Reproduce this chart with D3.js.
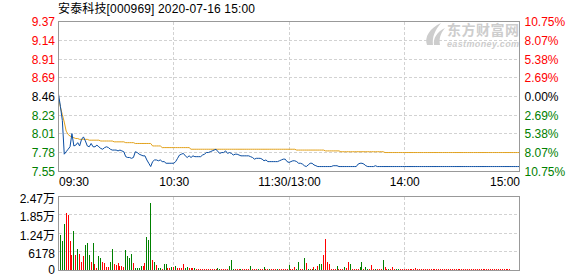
<!DOCTYPE html>
<html lang="zh">
<head>
<meta charset="utf-8">
<title>安泰科技 分时</title>
<script src="https://cdn.jsdelivr.net/npm/d3@7/dist/d3.min.js"></script>
<style>
  body { margin: 0; background: #fff; }
  svg { display: block; font-family: "Liberation Sans", Arial, "Noto Sans CJK SC", sans-serif; }
  .grid line { stroke: #d2d2d2; stroke-dasharray: 3,2; shape-rendering: crispEdges; }
  .frame { fill: none; stroke: #999; shape-rendering: crispEdges; }
</style>
</head>
<body>
<div id="chart"></div>
<script>
var title = "安泰科技[000969] 2020-07-16 15:00";
var preClose = 8.46;

var priceTicks = [9.37, 9.14, 8.91, 8.69, 8.46, 8.23, 8.01, 7.78, 7.55];
var pctLabels = ["10.75%", "8.07%", "5.38%", "2.69%", "0.00%", "2.69%", "5.38%", "8.07%", "10.75%"];
var volTicks = [24712, 18534, 12356, 6178, 0];
var volLabels = ["2.47万", "1.85万", "1.24万", "6178", "0"];
var timeTicks = [0, 60, 120, 180, 240];
var timeLabels = ["09:30", "10:30", "11:30/13:00", "14:00", "15:00"];

// one value per trading minute, 241 in all
var price = [
  8.49,8.34,8.17,7.76,7.79,7.82,7.85,8.01,7.86,7.87,
  7.90,7.86,7.94,7.97,7.92,7.86,7.85,7.89,7.85,7.85,
  7.87,7.85,7.83,7.82,7.84,7.85,7.84,7.82,7.81,7.81,
  7.81,7.80,7.81,7.80,7.79,7.73,7.72,7.72,7.71,7.72,
  7.79,7.78,7.76,7.75,7.74,7.74,7.69,7.65,7.61,7.67,
  7.69,7.69,7.68,7.69,7.67,7.67,7.65,7.65,7.65,7.65,
  7.65,7.67,7.71,7.75,7.76,7.77,7.74,7.72,7.74,7.72,
  7.74,7.73,7.73,7.73,7.73,7.75,7.76,7.78,7.78,7.79,
  7.80,7.81,7.82,7.79,7.77,7.78,7.78,7.80,7.77,7.78,
  7.77,7.75,7.76,7.76,7.75,7.74,7.74,7.74,7.74,7.74,
  7.73,7.72,7.70,7.71,7.71,7.71,7.70,7.68,7.69,7.67,
  7.67,7.67,7.67,7.67,7.67,7.68,7.69,7.70,7.70,7.67,
  7.66,7.67,7.68,7.68,7.67,7.65,7.65,7.64,7.62,7.61,
  7.63,7.65,7.65,7.63,7.62,7.61,7.61,7.61,7.61,7.61,
  7.61,7.61,7.61,7.62,7.62,7.62,7.61,7.61,7.61,7.61,
  7.61,7.61,7.61,7.61,7.61,7.61,7.64,7.65,7.65,7.64,
  7.62,7.61,7.61,7.61,7.61,7.62,7.61,7.61,7.61,7.61,
  7.61,7.61,7.61,7.61,7.61,7.61,7.61,7.61,7.61,7.61,
  7.61,7.61,7.61,7.61,7.61,7.61,7.61,7.61,7.61,7.61,
  7.61,7.61,7.61,7.61,7.61,7.61,7.61,7.61,7.61,7.61,
  7.61,7.61,7.61,7.61,7.61,7.61,7.61,7.61,7.61,7.61,
  7.61,7.61,7.61,7.61,7.61,7.61,7.61,7.61,7.61,7.61,
  7.61,7.61,7.61,7.61,7.61,7.61,7.61,7.61,7.61,7.61,
  7.61,7.61,7.61,7.61,7.61,7.61,7.61,7.61,7.61,7.61,
  7.61
];

var avgPrice = [
  8.44,8.33,8.24,8.15,8.04,8.00,7.98,7.97,7.96,7.95,
  7.95,7.94,7.94,7.94,7.94,7.94,7.93,7.93,7.93,7.93,
  7.93,7.93,7.92,7.92,7.92,7.92,7.92,7.92,7.92,7.91,
  7.91,7.91,7.91,7.91,7.91,7.90,7.90,7.90,7.90,7.90,
  7.89,7.89,7.89,7.89,7.89,7.89,7.89,7.89,7.89,7.86,
  7.86,7.86,7.86,7.86,7.84,7.84,7.84,7.84,7.84,7.84,
  7.84,7.84,7.84,7.84,7.84,7.84,7.84,7.84,7.84,7.82,
  7.82,7.82,7.82,7.82,7.82,7.82,7.82,7.82,7.82,7.82,
  7.82,7.82,7.82,7.82,7.82,7.82,7.82,7.82,7.82,7.82,
  7.82,7.82,7.82,7.82,7.82,7.82,7.82,7.82,7.82,7.82,
  7.82,7.82,7.82,7.82,7.82,7.82,7.82,7.82,7.82,7.82,
  7.82,7.82,7.82,7.82,7.82,7.82,7.82,7.82,7.82,7.82,
  7.82,7.82,7.82,7.82,7.81,7.81,7.81,7.81,7.81,7.81,
  7.81,7.81,7.81,7.81,7.81,7.81,7.81,7.81,7.81,7.80,
  7.80,7.80,7.80,7.80,7.80,7.80,7.80,7.79,7.79,7.79,
  7.79,7.79,7.79,7.79,7.79,7.79,7.79,7.79,7.79,7.79,
  7.79,7.79,7.79,7.79,7.79,7.79,7.79,7.79,7.79,7.79,
  7.78,7.78,7.78,7.78,7.78,7.78,7.78,7.78,7.78,7.78,
  7.78,7.78,7.78,7.78,7.78,7.78,7.78,7.78,7.78,7.78,
  7.78,7.78,7.78,7.78,7.78,7.78,7.78,7.78,7.78,7.78,
  7.78,7.78,7.78,7.78,7.78,7.78,7.78,7.78,7.78,7.78,
  7.78,7.78,7.78,7.78,7.78,7.78,7.78,7.78,7.78,7.78,
  7.78,7.78,7.78,7.78,7.78,7.78,7.78,7.78,7.78,7.78,
  7.78,7.78,7.78,7.78,7.78,7.78,7.78,7.78,7.78,7.78,
  7.78
];

// shares per minute
var volume = [
  0,11900,9680,15600,19270,18370,9690,5000,13000,5000,
  7000,5240,2780,4680,8570,9240,5000,2670,9240,2000,
  780,4680,4120,2780,2450,1110,1110,2780,7000,2000,
  1670,2230,1450,1450,1110,6680,4680,4120,5450,2230,
  560,780,780,1340,1340,2230,11130,10240,22600,3340,
  2780,1670,780,780,445,2000,2000,780,560,1110,
  1000,1450,780,780,780,2000,780,1110,560,560,
  560,780,330,330,330,330,330,330,330,330,
  330,330,330,780,330,330,330,330,330,1340,
  3340,330,330,330,330,330,330,330,330,330,
  1340,330,330,330,330,330,330,1000,330,330,
  330,330,330,330,330,330,330,330,330,330,
  1670,330,330,1110,330,2780,330,330,3900,2450,
  330,330,330,1110,330,1450,2000,1890,5010,10350,
  2780,2000,330,330,330,1340,330,330,330,1110,
  780,2780,2000,330,330,330,330,890,2780,330,
  1110,330,330,1670,330,330,330,330,330,3340,
  1110,330,330,330,1000,330,330,330,330,330,
  330,330,330,330,300,300,670,300,300,300,
  300,300,300,300,300,300,300,300,300,300,
  300,300,300,300,300,300,300,300,300,300,
  300,300,300,300,300,300,300,300,300,300,
  300,300,300,300,300,300,300,300,300,300,
  300,300,300,300,300,300,0,0,0,0,
  450
];

// 1 = price up that minute (red), 0 = down (green)
var volumeUp = [
  1,0,0,0,1,1,1,1,0,1,
  0,1,1,1,0,0,0,1,0,1,
  1,0,0,1,1,1,1,0,0,1,
  1,1,1,1,1,0,0,0,0,1,
  0,0,0,0,1,1,0,0,0,1,
  0,1,0,0,1,0,0,1,1,0,
  1,0,1,1,1,1,0,0,1,1,
  1,0,1,1,1,1,1,1,1,1,
  1,1,1,0,0,1,1,1,1,0,
  0,0,1,1,1,0,1,1,1,1,
  0,1,1,1,0,1,1,0,1,1,
  0,1,1,1,0,1,1,1,1,1,
  0,1,1,1,0,0,1,1,0,1,
  0,1,0,1,0,1,0,0,1,1,
  1,1,1,1,1,0,1,1,1,0,
  1,1,0,1,1,1,1,0,0,1,
  0,0,1,1,1,0,1,1,1,0,
  1,1,0,1,1,1,0,0,1,1,
  1,1,1,1,1,1,1,1,1,1,
  1,1,1,1,1,1,1,1,1,1,
  1,1,1,1,1,1,1,1,1,1,
  1,1,1,1,1,1,1,1,1,1,
  1,1,1,1,1,1,1,1,1,1,
  1,1,1,1,1,1,1,1,1,1,
  1
];

var width = 578, height = 276;
var left = 58.5, right = 519.5;
var pTop = 21.5, pBot = 171.5, vTop = 196.5, vBot = 270;
var red = "#ff0000", green = "#008000";

var svg = d3.select("#chart").append("svg")
    .attr("width", width)
    .attr("height", height);

var x = d3.scaleLinear().domain([0, 240]).range([left, right]);
var yP = d3.scaleLinear().domain([7.55, 9.37]).range([pBot, pTop]);
var yV = d3.scaleLinear().domain([0, 24712]).range([vBot, vTop]);

function crisp(v) { return Math.floor(v) + 0.5; }
function priceColor(d) { return d > preClose ? red : d < preClose ? green : "#000"; }

svg.append("text")
    .attr("x", 58).attr("y", 13)
    .attr("font-size", 12)
    .attr("fill", "#000")
    .attr("textLength", 197)
    .attr("lengthAdjust", "spacing")
    .text(title);

// grid
var grid = svg.append("g").attr("class", "grid");
grid.selectAll("line.h")
    .data(priceTicks.slice(1, -1))
  .join("line").attr("class", "h")
    .attr("x1", left).attr("x2", right)
    .attr("y1", d => crisp(yP(d))).attr("y2", d => crisp(yP(d)));
grid.selectAll("line.vh")
    .data(volTicks.slice(1, -1))
  .join("line").attr("class", "vh")
    .attr("x1", left).attr("x2", right)
    .attr("y1", d => crisp(yV(d))).attr("y2", d => crisp(yV(d)));
grid.selectAll("line.v")
    .data(timeTicks.slice(1, -1))
  .join("line").attr("class", "v")
    .attr("x1", d => crisp(x(d))).attr("x2", d => crisp(x(d)))
    .attr("y1", pTop).attr("y2", pBot);
grid.selectAll("line.vv")
    .data(timeTicks.slice(1, -1))
  .join("line").attr("class", "vv")
    .attr("x1", d => crisp(x(d))).attr("x2", d => crisp(x(d)))
    .attr("y1", vTop).attr("y2", vBot + 0.5);

// watermark
var wm = svg.append("g").attr("fill", "#cdcdcd");
wm.append("path")
    .attr("d", "M427,45 C424,37 430,28 441,23 C435,30 432,37 433,45 Z M434,45 C433,38 437,32 445,28 C440,34 439,39 440,45 Z");
wm.append("text")
    .attr("x", 447).attr("y", 34.5)
    .attr("font-size", 14).attr("font-weight", "bold")
    .attr("font-family", "Noto Sans CJK SC")
    .attr("textLength", 72)
    .text("东方财富网");
wm.append("text")
    .attr("x", 447).attr("y", 46.5)
    .attr("font-size", 9).attr("font-weight", "bold").attr("font-style", "italic")
    .attr("textLength", 72)
    .text("eastmoney.com");

// volume bars
svg.append("g")
    .attr("shape-rendering", "crispEdges")
  .selectAll("rect")
    .data(volume)
  .join("rect")
    .attr("x", (d, i) => Math.floor(x(i)))
    .attr("y", d => yV(d))
    .attr("width", 1)
    .attr("height", d => vBot - yV(d))
    .attr("fill", (d, i) => volumeUp[i] ? red : green);

// price lines
var minuteLine = d3.line().x((d, i) => x(i)).y(d => yP(d));
svg.append("path")
    .datum(avgPrice)
    .attr("fill", "none")
    .attr("stroke", "#e2a11a")
    .attr("stroke-width", 1)
    .attr("d", minuteLine);
svg.append("path")
    .datum(price)
    .attr("fill", "none")
    .attr("stroke", "#0b4ea2")
    .attr("stroke-width", 1)
    .attr("d", minuteLine);

// frames
svg.append("rect").attr("class", "frame")
    .attr("x", left).attr("y", pTop)
    .attr("width", right - left).attr("height", pBot - pTop);
svg.append("rect").attr("class", "frame")
    .attr("x", left).attr("y", vTop)
    .attr("width", right - left).attr("height", vBot + 0.5 - vTop);

// axes
function styleAxis(g) {
  g.attr("font-family", null).attr("font-size", 12);
  g.select(".domain").remove();
}

svg.append("g")
    .attr("transform", "translate(" + left + ",0)")
    .call(d3.axisLeft(yP).tickValues(priceTicks).tickSize(0).tickPadding(3.5).tickFormat(d3.format(".2f")))
    .call(styleAxis)
  .selectAll("text")
    .attr("fill", priceColor);

svg.append("g")
    .attr("transform", "translate(" + right + ",0)")
    .call(d3.axisRight(yP).tickValues(priceTicks).tickSize(0).tickPadding(5).tickFormat((d, i) => pctLabels[i]))
    .call(styleAxis)
  .selectAll("text")
    .attr("fill", priceColor);

svg.append("g")
    .attr("transform", "translate(0," + pBot + ")")
    .call(d3.axisBottom(x).tickValues(timeTicks).tickSize(0).tickPadding(6).tickFormat((d, i) => timeLabels[i]))
    .call(styleAxis)
  .selectAll("text")
    .attr("fill", "#000")
    .attr("text-anchor", (d, i) => i === 0 ? "start" : i === timeTicks.length - 1 ? "end" : "middle");

svg.append("g")
    .attr("transform", "translate(" + left + ",0)")
    .call(d3.axisLeft(yV).tickValues(volTicks).tickSize(0).tickPadding(3.5).tickFormat((d, i) => volLabels[i]))
    .call(styleAxis)
  .selectAll("text")
    .attr("fill", "#000")
    .attr("dy", (d, i) => i === volTicks.length - 1 ? "0.25em" : "0.5em");
</script>
</body>
</html>
